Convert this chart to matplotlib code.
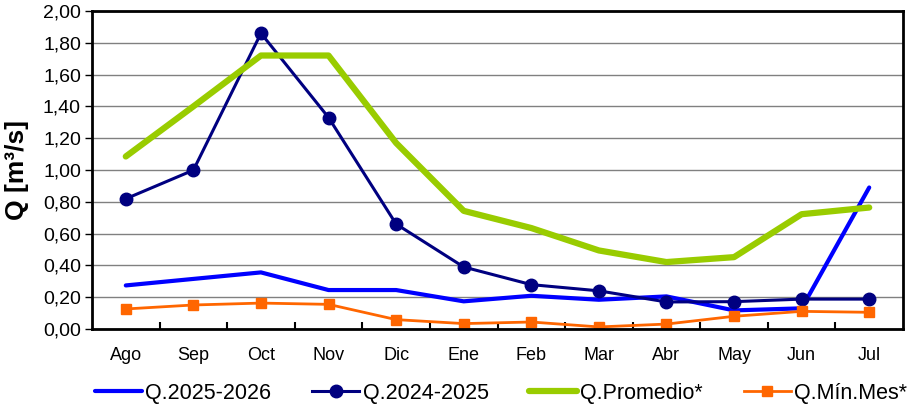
import matplotlib
matplotlib.use("Agg")
import matplotlib.pyplot as plt
import numpy as np

plt.rcParams['font.family'] = ['Liberation Sans', 'DejaVu Sans']

months = ["Ago", "Sep", "Oct", "Nov", "Dic", "Ene", "Feb", "Mar", "Abr", "May", "Jun", "Jul"]
q_2025_2026 = [0.274, 0.315, 0.356, 0.245, 0.245, 0.174, 0.209, 0.184, 0.205, 0.117, 0.13, 0.89]
q_2024_2025 = [0.819, 0.999, 1.86, 1.33, 0.66, 0.39, 0.279, 0.24, 0.17, 0.172, 0.188, 0.188]
q_promedio = [1.085, 1.40, 1.72, 1.72, 1.17, 0.743, 0.635, 0.494, 0.421, 0.452, 0.722, 0.764]
q_min_mes = [0.126, 0.151, 0.163, 0.155, 0.059, 0.034, 0.044, 0.013, 0.031, 0.08, 0.111, 0.105]
yticks = [0.0, 0.2, 0.4, 0.6, 0.8, 1.0, 1.2, 1.4, 1.6, 1.8, 2.0]

fig = plt.figure(figsize=(9.09, 4.09), dpi=100)
ax = fig.add_axes([92/909, 1 - 329/409, (903-92)/909, (329-11)/409])

x = np.arange(len(months))
ax.plot(x, q_2025_2026, color="#0000FF", lw=3.0, label="Q.2025-2026", solid_capstyle='round')
ax.plot(x, q_2024_2025, color="#000080", lw=2.2, marker='o', ms=9, label="Q.2024-2025")
ax.plot(x, q_promedio, color="#99CC00", lw=4.5, label="Q.Promedio*", solid_capstyle='round')
ax.plot(x, q_min_mes, color="#FF6600", lw=2.0, marker='s', ms=7.5, label="Q.Mín.Mes*")

ax.set_xlim(-0.5, len(months) - 0.5)
ax.set_ylim(0, 2.0)
ax.set_yticks(yticks)
ax.set_yticklabels([f"{v:.2f}".replace('.', ',') for v in yticks], fontsize=14)
ax.set_xticks(x)
ax.set_xticklabels(months, fontsize=13)
ax.tick_params(axis='x', length=0, pad=13)
ax.set_xticks(np.arange(0.5, len(months) - 0.5, 1.0), minor=True)
ax.tick_params(axis='x', which='minor', direction='in', length=5, width=1.5)
ax.tick_params(axis='y', direction='out', length=5, width=1, pad=3)
ax.yaxis.grid(True, color="#808080", lw=1)
ax.set_axisbelow(True)
for s in ax.spines.values():
    s.set_linewidth(2)
    s.set_color('black')

ax.set_ylabel("Q [m³/s]", fontsize=19, fontweight='bold', labelpad=10)

leg = fig.legend(loc='center', bbox_to_anchor=(0.551, 1 - 393/409), ncol=4,
                 frameon=False, fontsize=15.5, handlelength=2.2, handletextpad=0.15,
                 columnspacing=1.9, borderaxespad=0, borderpad=0)

fig.savefig("out.png", dpi=100)
